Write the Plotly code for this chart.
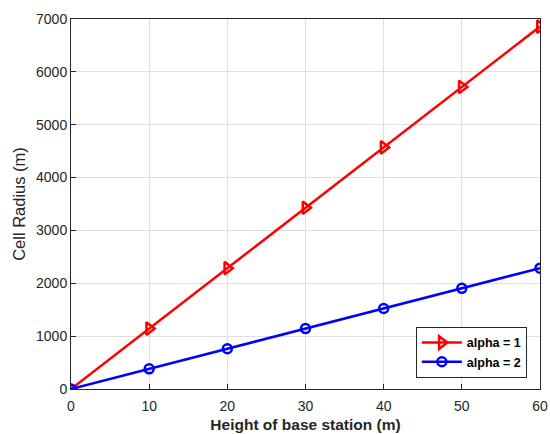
import plotly.graph_objects as go

heights = [0, 10, 20, 30, 40, 50, 60]
radius_alpha1 = [0, 1143, 2286, 3429, 4571, 5714, 6857]
radius_alpha2 = [0, 381, 762, 1143, 1524, 1905, 2286]
x_ticks = [0, 10, 20, 30, 40, 50, 60]
y_ticks = [0, 1000, 2000, 3000, 4000, 5000, 6000, 7000]

FONT = "Liberation Sans, Arial, sans-serif"

fig = go.Figure()
fig.add_trace(go.Scatter(
    x=heights, y=radius_alpha1, mode="lines+markers", name="<b>alpha = 1</b>",
    line=dict(color="#ff0000", width=2.5),
    marker=dict(symbol="triangle-right-open", size=11, color="#ff0000",
                line=dict(color="#ff0000", width=2.5)),
))
fig.add_trace(go.Scatter(
    x=heights, y=radius_alpha2, mode="lines+markers", name="<b>alpha = 2</b>",
    line=dict(color="#0000ff", width=2.5),
    marker=dict(symbol="circle-open", size=9, color="#0000ff",
                line=dict(color="#0000ff", width=2.5)),
))

axis_common = dict(
    showline=True, linecolor="#262626", linewidth=1, mirror=True,
    showgrid=True, gridcolor="#dfdfdf", gridwidth=1,
    ticks="inside", ticklen=5, tickcolor="#262626",
    tickfont=dict(family=FONT, size=14, color="#262626"),
    zeroline=False, automargin=False,
)

fig.update_layout(
    width=550, height=434,
    margin=dict(l=71, r=10, t=19, b=45),
    paper_bgcolor="white", plot_bgcolor="white",
    xaxis=dict(range=[0, 60], tickvals=x_ticks, ticklabelstandoff=4,
               title=dict(text="<b>Height of base station (m)</b>", standoff=6,
                          font=dict(family=FONT, size=15.5, color="#262626")),
               **axis_common),
    yaxis=dict(range=[0, 7000], tickvals=y_ticks,
               title=dict(text="Cell Radius (m)", standoff=6,
                          font=dict(family=FONT, size=16.5, color="#262626")),
               **axis_common),
    legend=dict(x=0.972, y=0.03, xanchor="right", yanchor="bottom",
                bgcolor="white", bordercolor="#262626", borderwidth=1,
                font=dict(family=FONT, size=12.5, color="#000000"),
                itemwidth=40, tracegroupgap=0),
    showlegend=True,
)

fig.write_html("out.html")
